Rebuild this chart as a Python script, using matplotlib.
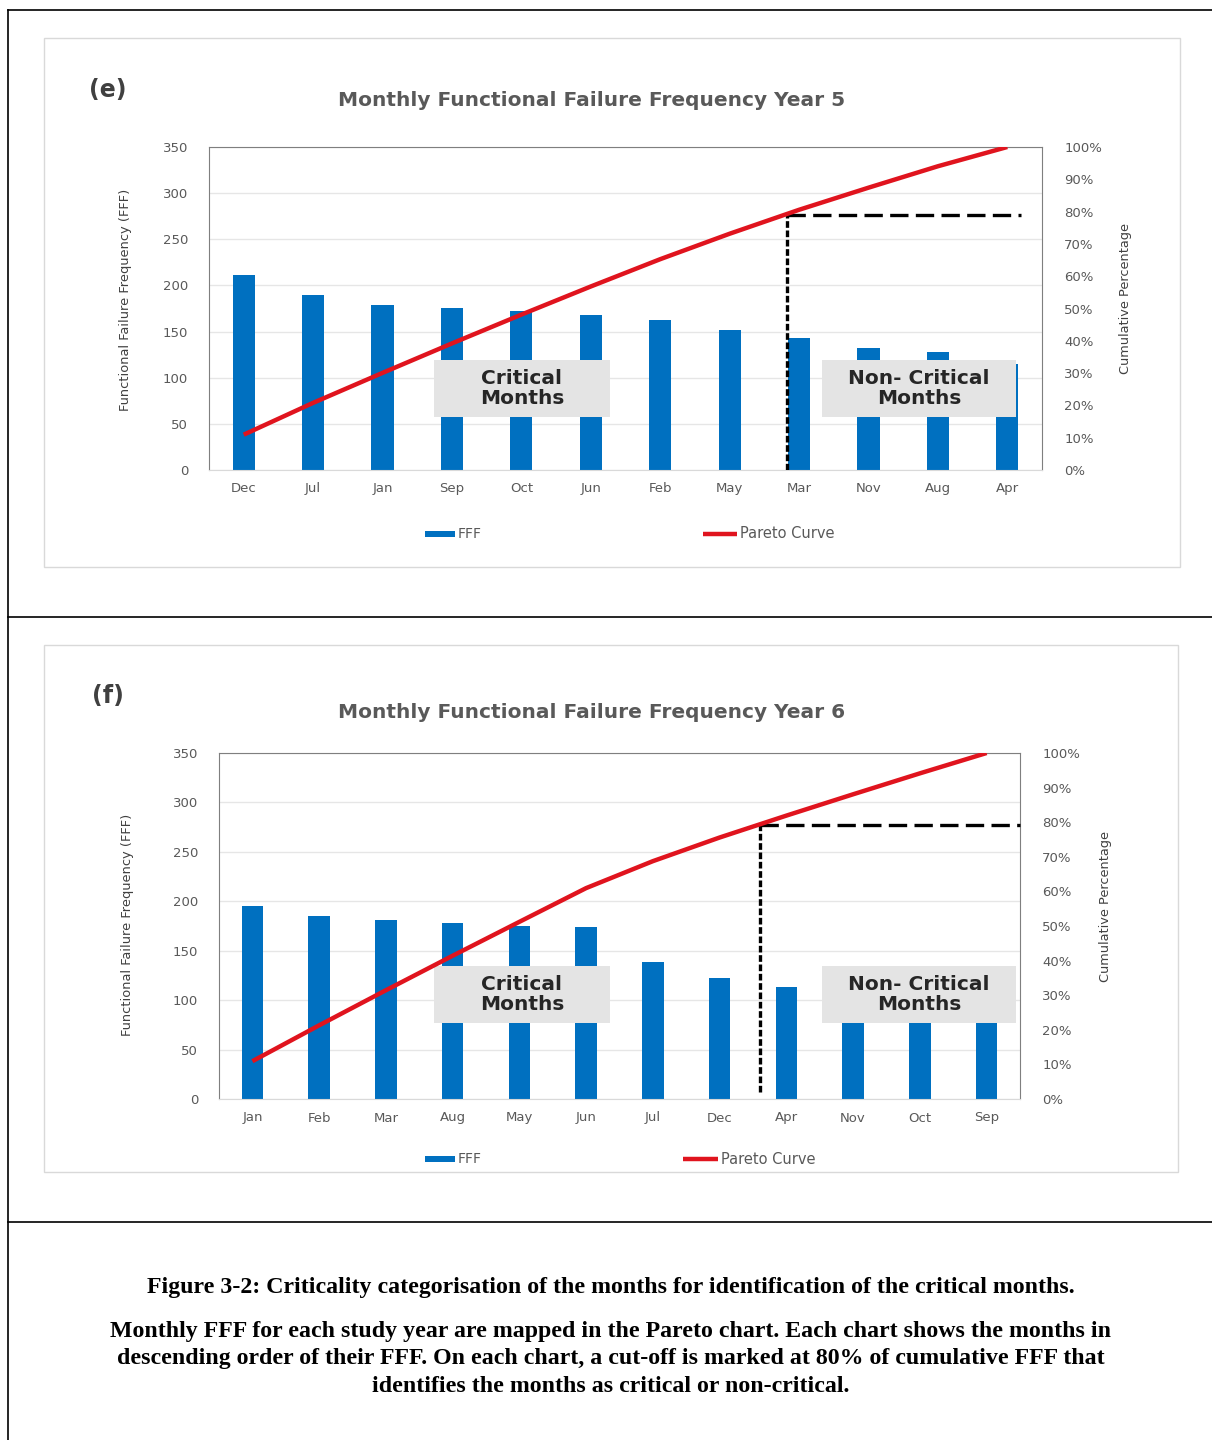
import numpy as np
import matplotlib
matplotlib.use('Agg')
import matplotlib.pyplot as plt
from matplotlib.patches import Rectangle
from matplotlib.lines import Line2D
from matplotlib.ticker import PercentFormatter

# Year 5 data (panel e)
months_e = ['Dec', 'Jul', 'Jan', 'Sep', 'Oct', 'Jun', 'Feb', 'May', 'Mar', 'Nov', 'Aug', 'Apr']
fff_e = [211, 190, 179, 176, 172, 168, 163, 152, 143, 132, 128, 115]

# Year 6 data (panel f)
months_f = ['Jan', 'Feb', 'Mar', 'Aug', 'May', 'Jun', 'Jul', 'Dec', 'Apr', 'Nov', 'Oct', 'Sep']
fff_f = [195, 185, 181, 178, 175, 174, 139, 122, 113, 110, 108, 105]

left_ticks = [0, 50, 100, 150, 200, 250, 300, 350]
right_ticks = [0, .1, .2, .3, .4, .5, .6, .7, .8, .9, 1.0]

caption_title = 'Figure 3-2: Criticality categorisation of the months for identification of the critical months.'
caption_lines = [
    'Monthly FFF for each study year are mapped in the Pareto chart. Each chart shows the months in',
    'descending order of their FFF. On each chart, a cut-off is marked at 80% of cumulative FFF that',
    'identifies the months as critical or non-critical.',
]

W, H = 1212, 1440
BLUE = '#0070c0'
RED = '#e0141e'
GREY = '#595959'

fig = plt.figure(figsize=(W / 100, H / 100), dpi=100)


def fx(x):
    return x / W


def fy(y):
    return 1 - y / H


def pline(x0, y0, x1, y1, **kw):
    fig.add_artist(Line2D([fx(x0), fx(x1)], [fy(y0), fy(y1)],
                          transform=fig.transFigure, **kw))


def frect(x0, y0, x1, y1, **kw):
    return Rectangle((fx(x0), fy(y1)), fx(x1) - fx(x0), fy(y0) - fy(y1),
                     transform=fig.transFigure, **kw)


def panel(months, fff, tag, title, area, frame, cut_x, cut_y, vline_bot,
          hline_end, ylab_pos, y2lab_pos, title_y, tag_pos, boxes, leg):
    # light chart-area frame
    fig.add_artist(frect(*frame, fill=False, edgecolor='#d9d9d9', lw=1.0))

    x0, y0, x1, y1 = area
    ax = fig.add_axes([fx(x0), fy(y1), fx(x1) - fx(x0), fy(y0) - fy(y1)])
    x = np.arange(len(months))
    ax.bar(x, fff, width=0.32, color=BLUE, label='FFF', zorder=2)
    ax.set_xlim(-0.5, len(months) - 0.5)
    ax.set_ylim(0, 350)
    ax.set_yticks(left_ticks)
    ax.set_xticks(x)
    ax.set_xticklabels(months)
    ax.yaxis.grid(True, color='#e6e6e6', lw=1)
    ax.set_axisbelow(True)
    ax.tick_params(length=0, labelsize=9.5, labelcolor=GREY)
    ax.tick_params(axis='y', pad=15)
    ax.tick_params(axis='x', pad=9)
    for s in ['left', 'top', 'right']:
        ax.spines[s].set_color('#7f7f7f')
    ax.spines['bottom'].set_color('#d9d9d9')

    ax2 = ax.twinx()
    cum = np.cumsum(fff) / np.sum(fff)
    ax2.plot(x, cum, color=RED, lw=3.2, label='Pareto Curve', zorder=5,
             solid_capstyle='butt')
    ax2.set_ylim(0, 1)
    ax2.set_yticks(right_ticks)
    ax2.yaxis.set_major_formatter(PercentFormatter(1.0, decimals=0))
    ax2.tick_params(length=0, labelsize=9.5, labelcolor=GREY, pad=16)
    for s in ax2.spines.values():
        s.set_visible(False)

    # 80% cut-off
    ax2.plot([cut_x, cut_x], [vline_bot, cut_y], color='black', lw=2.4,
             dashes=(2.0, 0.8), zorder=4)
    ax2.plot([cut_x, hline_end], [cut_y, cut_y], color='black', lw=2.4,
             dashes=(5.5, 2.2), zorder=4, clip_on=False)

    # category boxes
    for bx, txt in boxes:
        ax2.add_patch(frect(*bx, facecolor='#e4e4e4', edgecolor='none',
                            zorder=3, clip_on=False))
        ax2.text(fx((bx[0] + bx[2]) / 2), fy((bx[1] + bx[3]) / 2), txt,
                 transform=fig.transFigure, ha='center', va='center',
                 fontsize=14.5, fontweight='bold', color='#262626',
                 linespacing=1.1, zorder=6)

    fig.text(fx(ylab_pos[0]), fy(ylab_pos[1]), 'Functional Failure Frequency (FFF)',
             rotation=90, ha='center', va='center', fontsize=9.4, color='#404040',
             family='DejaVu Sans Condensed')
    fig.text(fx(y2lab_pos[0]), fy(y2lab_pos[1]), 'Cumulative Percentage',
             rotation=90, ha='center', va='center', fontsize=9.3, color='#404040',
             family='DejaVu Sans Condensed')
    fig.text(fx(592), fy(title_y), title, ha='center', va='center',
             fontsize=14.5, fontweight='bold', color=GREY)
    fig.text(fx(tag_pos[0]), fy(tag_pos[1]), tag, ha='center', va='center',
             fontsize=17, fontweight='bold', color='#404040')

    # legend drawn by hand to keep the wide Excel spacing
    (bx0, bx1), (lx0, lx1), ly = leg
    fig.add_artist(frect(bx0, ly - 3, bx1, ly + 3, facecolor=BLUE, edgecolor='none'))
    fig.text(fx(bx1 + 3), fy(ly), 'FFF', ha='left', va='center', fontsize=10,
             color=GREY)
    pline(lx0, ly, lx1, ly, color=RED, lw=3.2, solid_capstyle='butt')
    fig.text(fx(lx1 + 3), fy(ly), 'Pareto Curve', ha='left', va='center',
             fontsize=10.5, color=GREY)
    return ax, ax2


panel(months_e, fff_e, '(e)', 'Monthly Functional Failure Frequency Year 5',
      area=(209, 147, 1042, 470), frame=(44, 38, 1180, 567),
      cut_x=7.83, cut_y=0.79, vline_bot=0.0, hline_end=11.2,
      ylab_pos=(125, 300), y2lab_pos=(1125, 298), title_y=100, tag_pos=(108, 90),
      boxes=[((434, 360, 610, 417), 'Critical\nMonths'),
             ((822, 360, 1016, 417), 'Non- Critical\nMonths')],
      leg=((425, 455), (703, 737), 534))

panel(months_f, fff_f, '(f)', 'Monthly Functional Failure Frequency Year 6',
      area=(219, 753, 1020, 1099), frame=(44, 645, 1178, 1172),
      cut_x=7.6, cut_y=0.792, vline_bot=0.02, hline_end=11.5,
      ylab_pos=(128, 925), y2lab_pos=(1106, 907), title_y=713, tag_pos=(108, 696),
      boxes=[((434, 966, 610, 1023), 'Critical\nMonths'),
             ((822, 966, 1016, 1023), 'Non- Critical\nMonths')],
      leg=((425, 455), (683, 718), 1159))

# table-like outer borders
pline(8, 10, 1212, 10, color='black', lw=1.2)
pline(8, 10, 8, 1440, color='black', lw=1.2)
pline(8, 617, 1212, 617, color='black', lw=1.2)
pline(8, 1222, 1212, 1222, color='black', lw=1.2)

# caption
cap_kw = dict(ha='center', va='center', fontsize=17.2, fontweight='bold',
              family='Liberation Serif', color='black')
fig.text(fx(611), fy(1287), caption_title, **cap_kw)
for i, line in enumerate(caption_lines):
    fig.text(fx(611), fy(1331 + 27.5 * i), line, **cap_kw)

fig.savefig('out.png', dpi=100)
